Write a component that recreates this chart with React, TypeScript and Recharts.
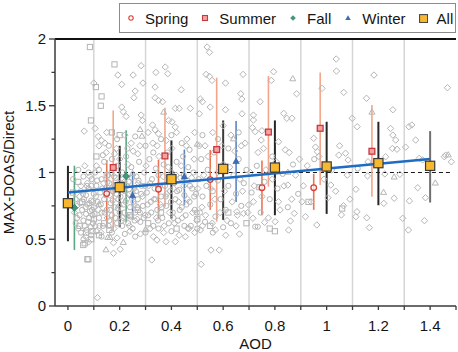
import React from 'react';
import { ComposedChart, Scatter, XAxis, YAxis, ReferenceLine, ErrorBar } from 'recharts';

// ---------- data ----------
const allX = [0, 0.2, 0.4, 0.6, 0.8, 1.0, 1.2, 1.4];
const allY = [0.77, 0.89, 0.95, 1.027, 1.037, 1.045, 1.07, 1.05];
const allLo = [0.485, 0.59, 0.655, 0.645, 0.68, 0.69, 0.755, 0.775];
const allHi = [1.05, 1.2, 1.24, 1.39, 1.39, 1.38, 1.38, 1.31];
const allBarColor = ['#262626', '#262626', '#262626', '#3a3a3a', '#262626', '#262626', '#262626', '#707070'];

const springX = [0.15, 0.35, 0.55, 0.75, 0.95];
const springY = [0.842, 0.875, 0.947, 0.886, 0.886];
const springLo = [0.585, 0.655, 0.72, 0.68, 0.72];
const springHi = [1.094, 1.094, 1.169, 1.089, 0.99];

const summerX = [0.175, 0.375, 0.575, 0.775, 0.975, 1.175];
const summerY = [1.037, 1.124, 1.172, 1.303, 1.331, 1.159];
const summerLo = [0.57, 0.744, 0.632, 0.894, 0.906, 0.819];
const summerHi = [1.465, 1.485, 1.71, 1.723, 1.75, 1.506];

const fallX = [0.025, 0.225];
const fallY = [0.736, 0.972];
const fallLo = [0.42, 0.628];
const fallHi = [1.051, 1.316];

const winterX = [0.25, 0.45, 0.65];
const winterY = [0.824, 0.966, 1.081];
const winterLo = [0.644, 0.757, 0.779];
const winterHi = [0.997, 1.172, 1.386];

const fitX = [0, 1.4];
const fitY = [0.85, 1.101];

const unityX = [0, 1.48];
const unityY = 1;

const binEdges = [0.1, 0.3, 0.5, 0.7, 0.9, 1.1, 1.3];
const xTicks = [0, 0.1, 0.2, 0.3, 0.4, 0.5, 0.6, 0.7, 0.8, 0.9, 1.0, 1.1, 1.2, 1.3, 1.4, 1.5];
const xMajor = [0, 0.2, 0.4, 0.6, 0.8, 1.0, 1.2, 1.4];
const yTicks = [0, 0.25, 0.5, 0.75, 1, 1.25, 1.5, 1.75, 2];
const yMajor = [0, 0.5, 1, 1.5, 2];

// individual grey observations, by season (x = AOD, y = ratio)
const greySpring: number[][] = [
  [0.03, 0.62], [0.04, 0.58], [0.045, 0.68], [0.05, 0.55], [0.055, 0.72], [0.06, 0.64], [0.062, 0.8], [0.065, 0.6],
  [0.07, 0.69], [0.072, 0.57], [0.075, 0.76], [0.078, 0.63], [0.08, 0.88], [0.082, 0.66], [0.085, 0.71], [0.088, 0.59],
  [0.09, 0.79], [0.092, 0.95], [0.095, 0.68], [0.097, 0.62], [0.1, 0.84], [0.1, 0.74],
  [0.02, 0.95], [0.03, 0.8], [0.04, 1.02], [0.05, 0.86], [0.06, 0.97], [0.07, 0.83], [0.08, 1.0], [0.09, 0.9],
  [0.11, 0.9], [0.115, 0.78], [0.12, 1.02], [0.12, 0.66], [0.125, 0.85], [0.13, 0.95], [0.13, 0.7], [0.135, 0.6],
  [0.14, 1.08], [0.14, 0.8], [0.145, 0.88], [0.15, 0.72], [0.155, 0.98], [0.16, 0.64], [0.16, 0.92], [0.165, 0.77],
  [0.17, 1.1], [0.17, 0.68], [0.175, 0.86], [0.18, 0.74], [0.185, 0.96], [0.19, 0.62], [0.19, 1.05], [0.195, 0.8],
  [0.2, 0.7], [0.205, 0.9], [0.21, 1.0], [0.21, 0.6], [0.215, 0.76], [0.22, 0.86], [0.225, 1.12], [0.23, 0.67],
  [0.235, 0.93], [0.24, 0.74], [0.245, 1.04], [0.25, 0.58], [0.255, 0.88], [0.26, 0.7], [0.265, 0.97], [0.27, 0.8],
  [0.275, 1.08], [0.28, 0.63], [0.285, 0.9], [0.29, 0.75], [0.295, 1.0],
  [0.305, 0.85], [0.31, 0.68], [0.315, 1.1], [0.32, 0.78], [0.325, 0.95], [0.33, 0.6], [0.335, 0.88], [0.34, 1.03],
  [0.345, 0.72], [0.35, 0.98], [0.36, 0.82], [0.365, 0.66], [0.37, 1.06], [0.375, 0.9], [0.38, 0.75], [0.385, 1.15],
  [0.39, 0.62], [0.395, 0.86], [0.4, 1.0], [0.405, 0.7], [0.41, 0.92], [0.415, 0.8], [0.42, 1.08], [0.425, 0.64],
  [0.43, 0.87], [0.435, 0.96], [0.44, 0.74], [0.445, 1.12], [0.45, 0.83], [0.455, 0.68], [0.46, 0.94], [0.465, 1.04],
  [0.47, 0.78], [0.475, 0.6], [0.48, 0.88], [0.485, 1.0], [0.49, 0.72], [0.495, 0.84],
  [0.505, 0.95], [0.51, 0.7], [0.515, 1.1], [0.52, 0.82], [0.53, 0.63], [0.535, 0.9], [0.54, 1.02], [0.55, 0.76],
  [0.56, 0.86], [0.565, 1.15], [0.57, 0.67], [0.58, 0.94], [0.59, 0.8], [0.6, 1.06], [0.61, 0.72], [0.62, 0.9],
  [0.63, 0.62], [0.64, 0.98], [0.65, 0.84], [0.66, 1.1], [0.67, 0.75], [0.68, 0.92], [0.69, 1.02],
  [0.71, 0.85], [0.73, 1.05], [0.745, 0.7], [0.76, 0.93], [0.78, 0.8], [0.79, 1.12], [0.81, 0.88], [0.83, 0.99],
  [0.85, 0.74], [0.87, 1.06], [0.89, 0.84],
  [0.105, 1.0], [0.135, 1.13], [0.158, 1.2], [0.19, 1.25], [0.23, 1.18], [0.26, 1.27], [0.3, 1.2], [0.33, 1.15],
  [0.36, 1.25], [0.4, 1.28], [0.44, 1.22], [0.47, 1.17], [0.52, 1.28], [0.58, 1.25], [0.62, 1.18], [0.66, 1.3],
  [0.06, 0.5], [0.09, 0.53], [0.13, 0.52], [0.17, 0.55], [0.22, 0.54], [0.26, 0.52], [0.3, 0.55], [0.35, 0.58],
  [0.4, 0.56], [0.45, 0.6], [0.5, 0.58], [0.56, 0.55], [0.6, 0.59],
  [0.724, 0.594], [0.734, 0.594], [0.952, 1.1], [1.12, 1.03],
  [0.035, 0.66], [0.048, 0.77], [0.058, 0.84], [0.068, 0.74], [0.074, 0.9], [0.083, 0.77], [0.093, 0.72], [0.103, 0.69],
  [0.108, 0.82], [0.113, 0.94], [0.122, 0.6], [0.127, 0.76], [0.133, 0.88], [0.142, 0.7], [0.147, 0.83], [0.153, 0.93],
  [0.157, 0.6], [0.163, 0.72], [0.168, 0.88], [0.173, 0.79], [0.178, 0.97], [0.183, 0.66], [0.188, 0.84], [0.193, 0.73],
  [0.198, 0.92], [0.203, 0.82], [0.208, 0.64], [0.213, 0.95], [0.218, 0.7], [0.223, 0.78], [0.228, 0.9], [0.233, 0.62],
  [0.238, 0.84], [0.243, 0.67], [0.248, 0.96], [0.253, 0.78], [0.258, 0.64], [0.263, 0.86], [0.268, 0.74], [0.273, 0.94],
  [0.278, 0.7], [0.283, 0.84], [0.293, 0.66], [0.298, 0.9],
  [0.308, 0.76], [0.318, 0.92], [0.322, 0.7], [0.338, 0.8], [0.348, 0.64], [0.355, 0.9], [0.362, 0.74], [0.378, 0.82],
  [0.392, 0.95], [0.398, 0.78], [0.408, 0.66], [0.422, 0.86], [0.432, 0.72], [0.448, 0.98], [0.458, 0.76], [0.472, 0.9],
  [0.488, 0.82], [0.498, 0.7],
];

const greyFall: number[][] = [
  [0.1, 1.67], [0.193, 1.73], [0.208, 1.66], [0.252, 1.73], [0.283, 1.8], [0.26, 1.61], [0.29, 1.67], [0.34, 1.75],
  [0.376, 1.79], [0.386, 1.74], [0.255, 1.56], [0.337, 1.64], [0.438, 1.62], [0.538, 1.94], [0.547, 1.9], [0.534, 1.735],
  [0.547, 1.72], [0.557, 1.69], [0.609, 1.67], [0.677, 1.735], [0.668, 1.59], [0.672, 1.55], [0.743, 1.53], [0.795, 1.755],
  [0.786, 1.69], [0.884, 1.59], [1.037, 1.85], [1.038, 1.76], [0.982, 1.63], [1.066, 1.6], [1.183, 1.73], [1.154, 1.556],
  [1.256, 1.47], [1.467, 1.635],
  [0.337, 1.56], [0.35, 1.54], [0.366, 1.53], [0.208, 1.49], [0.214, 1.455], [0.225, 1.42], [0.063, 1.31], [0.105, 1.33],
  [0.512, 1.55], [0.52, 1.53], [0.55, 1.49], [0.609, 1.47], [0.415, 1.48], [0.43, 1.48], [0.473, 1.48], [0.508, 1.44],
  [0.673, 1.44], [0.717, 1.43], [0.283, 1.43], [0.288, 1.39], [0.389, 1.39], [0.402, 1.38], [0.415, 1.34], [0.327, 1.356],
  [0.337, 1.32], [0.35, 1.29], [0.117, 1.27], [0.13, 1.24], [0.143, 1.22],
  [0.834, 1.443], [0.846, 1.406], [0.866, 1.406], [0.717, 1.393], [0.713, 1.336], [0.724, 1.306], [0.75, 1.313], [0.747, 1.243],
  [0.756, 1.18], [0.814, 1.23], [0.84, 1.17], [0.95, 1.256], [0.957, 1.19], [1.099, 1.406], [1.118, 1.343], [1.247, 1.33],
  [1.256, 1.28], [1.267, 1.243], [1.254, 1.18], [1.318, 1.343], [1.329, 1.356], [1.344, 1.243], [1.305, 1.19], [1.047, 1.13],
  [1.073, 1.144], [1.228, 1.118], [1.46, 1.13], [1.482, 1.08], [0.964, 1.156], [1.083, 1.094], [1.272, 1.174], [1.158, 0.974],
  [1.283, 0.986], [1.358, 1.106], [1.371, 1.094], [1.455, 1.118],
  [1.352, 0.886], [1.32, 0.787], [1.382, 0.811], [1.261, 0.807], [1.113, 0.874], [1.065, 0.751], [1.117, 0.706], [1.113, 0.669],
  [1.057, 0.682], [1.005, 0.811], [1.016, 0.906], [0.962, 0.607], [1.155, 0.661], [1.165, 0.587], [1.294, 0.657], [1.316, 0.569],
  [1.378, 0.639], [1.16, 1.081], [1.225, 0.989], [1.221, 0.769], [0.918, 0.669], [0.905, 0.781], [0.853, 0.569], [0.86, 0.637],
  [0.875, 0.694], [0.85, 0.906], [0.814, 0.781], [0.801, 0.632], [0.76, 0.627], [0.715, 0.657], [0.663, 0.539],
  [0.679, 0.694], [0.653, 0.706], [0.698, 0.757], [0.717, 0.781],
  [0.114, 0.062], [0.324, 0.345], [0.515, 0.312], [0.553, 0.419], [0.585, 0.419], [0.176, 0.395], [0.202, 0.425], [0.176, 0.474],
  [0.344, 0.494], [0.379, 0.482], [0.415, 0.482], [0.454, 0.519], [0.463, 0.582], [0.512, 0.569],
  [0.035, 0.75], [0.05, 0.9], [0.068, 0.52], [0.085, 0.97], [0.105, 0.6], [0.11, 1.05], [0.118, 0.72], [0.128, 0.55],
  [0.138, 0.92], [0.148, 1.15], [0.152, 0.66], [0.162, 0.83], [0.168, 1.0], [0.178, 0.58], [0.182, 0.9], [0.188, 1.18],
  [0.198, 0.75], [0.2, 1.1], [0.212, 0.66], [0.218, 0.93], [0.228, 0.8], [0.232, 1.06], [0.238, 0.6], [0.248, 0.85],
  [0.252, 1.16], [0.258, 0.76], [0.268, 0.65], [0.272, 0.92], [0.278, 1.2], [0.288, 0.82], [0.298, 0.68], [0.302, 1.05],
  [0.312, 0.9], [0.318, 0.58], [0.328, 1.22], [0.332, 0.8], [0.342, 0.66], [0.348, 0.9], [0.352, 1.12], [0.358, 0.76],
  [0.368, 0.97], [0.372, 0.6], [0.382, 0.84], [0.388, 1.04], [0.392, 0.7], [0.402, 1.18], [0.408, 0.88], [0.412, 0.62],
  [0.418, 0.98], [0.428, 0.78], [0.438, 1.05], [0.442, 0.66], [0.448, 0.9], [0.458, 1.2], [0.462, 0.8], [0.468, 0.58],
  [0.478, 0.96], [0.482, 0.7], [0.488, 1.1], [0.498, 0.64], [0.502, 0.88], [0.508, 1.2], [0.518, 0.74], [0.525, 0.98],
  [0.532, 0.68], [0.542, 1.12], [0.552, 0.88], [0.558, 0.62], [0.568, 0.8], [0.578, 1.0], [0.588, 0.7], [0.595, 1.2],
  [0.605, 0.86], [0.615, 0.64], [0.625, 1.04], [0.635, 0.78], [0.645, 1.16], [0.655, 0.68], [0.665, 0.95], [0.675, 0.86],
  [0.685, 1.22], [0.695, 0.7],
  [0.705, 1.0], [0.72, 0.9], [0.735, 1.15], [0.75, 0.82], [0.765, 1.02], [0.775, 0.66], [0.79, 0.95], [0.805, 1.08],
  [0.82, 0.72], [0.835, 0.9], [0.855, 1.15], [0.865, 0.8], [0.88, 0.98], [0.895, 1.1],
  [0.91, 0.9], [0.925, 1.05], [0.94, 0.78], [0.97, 1.12], [0.99, 0.95], [1.02, 1.02], [1.035, 0.86], [1.05, 1.2],
  [1.08, 0.98], [1.09, 0.8],
  [0.12, 1.2], [0.15, 1.3], [0.18, 1.14], [0.22, 1.28], [0.245, 1.22], [0.27, 1.14], [0.31, 1.3], [0.345, 1.2],
  [0.38, 1.24], [0.42, 1.3], [0.46, 1.25], [0.49, 1.3], [0.53, 1.2], [0.56, 1.3], [0.6, 1.35], [0.63, 1.28], [0.67, 1.2],
  [0.08, 0.48], [0.11, 0.56], [0.19, 0.51], [0.24, 0.56], [0.28, 0.54], [0.33, 0.52], [0.37, 0.55], [0.43, 0.53],
  [0.49, 0.55], [0.52, 0.6], [0.57, 0.57], [0.61, 0.53], [0.65, 0.6],
  [0.025, 0.7], [0.045, 0.82], [0.065, 1.05], [0.075, 0.92], [0.095, 0.78],
];

const greySummer: number[][] = [
  [0.085, 1.94], [0.18, 1.81], [0.108, 1.64], [0.13, 1.57], [0.127, 1.5], [0.089, 1.39], [0.075, 0.35], [0.079, 0.35],
  [0.059, 0.457], [0.065, 0.47], [0.09, 0.5], [0.07, 0.55], [0.045, 0.6], [0.055, 0.78], [0.095, 0.56], [0.12, 0.53],
  [0.1, 0.65], [0.14, 0.62], [0.16, 0.57], [0.15, 0.98], [0.17, 1.3], [0.11, 1.12], [0.2, 1.28], [0.24, 0.68],
  [0.27, 0.72], [0.31, 0.62], [0.36, 0.7], [0.42, 0.58], [0.5, 0.65], [0.55, 0.6], [0.62, 0.7], [0.69, 0.62],
  [0.78, 0.58], [0.74, 0.89], [0.8, 0.56], [0.93, 0.78], [1.06, 0.73], [0.04, 0.93], [0.02, 0.85],
];

const greyWinter: number[][] = [
  [0.154, 0.512], [0.163, 0.512], [0.147, 0.419], [0.214, 0.474], [0.279, 1.32], [0.286, 1.27], [0.869, 1.7],
  [1.175, 1.45], [1.261, 0.964], [1.22, 0.849], [1.42, 0.919], [0.37, 1.45], [0.5, 1.21], [0.64, 1.25], [0.25, 0.99],
  [0.12, 0.76], [0.3, 0.57], [0.85, 1.0], [1.47, 1.13],
];

// ---------- tables built from arrays ----------
type Row = { x: number; y: number; err?: number[]; color?: string };
const buildStat = (xs: number[], ys: number[], lo: number[], hi: number[]): Row[] =>
  xs.map((x, i) => ({ x, y: ys[i], err: [ys[i] - lo[i], hi[i] - ys[i]] }));
const buildPts = (arr: number[][]): Row[] => arr.map(([x, y]) => ({ x, y }));

const springRows = buildStat(springX, springY, springLo, springHi);
const summerRows = buildStat(summerX, summerY, summerLo, summerHi);
const fallRows = buildStat(fallX, fallY, fallLo, fallHi);
const winterRows = buildStat(winterX, winterY, winterLo, winterHi);
const allRows = buildStat(allX, allY, allLo, allHi).map((r, i) => ({ ...r, color: allBarColor[i] }));
const allBarGroups = Array.from(new Set(allBarColor)).map((c) => ({ color: c, rows: allRows.filter((r) => r.color === c) }));
const fitRows = fitX.map((x, i) => ({ x, y: fitY[i] }));

const FONT = '"Liberation Sans", Arial, Helvetica, sans-serif';
const GREY = '#b5b5b5';

// ---------- shapes ----------
const diamondPath = (cx: number, cy: number, r: number) => `M${cx},${cy - r}L${cx + r},${cy}L${cx},${cy + r}L${cx - r},${cy}Z`;
const triPath = (cx: number, cy: number, s: number) => {
  const h = s * 0.866;
  return `M${cx},${cy - (2 * h) / 3}L${cx + s / 2},${cy + h / 3}L${cx - s / 2},${cy + h / 3}Z`;
};

const GreyCircle = (p: any) => <circle cx={p.cx} cy={p.cy} r={2.6} fill="none" stroke={GREY} strokeWidth={1} />;
const GreySquare = (p: any) => <rect x={p.cx - 2.6} y={p.cy - 2.6} width={5.2} height={5.2} fill="none" stroke={GREY} strokeWidth={1} />;
const GreyDiamond = (p: any) => <path d={diamondPath(p.cx, p.cy, 3.2)} fill="none" stroke={GREY} strokeWidth={1} />;
const GreyTri = (p: any) => <path d={triPath(p.cx, p.cy, 6)} fill="none" stroke={GREY} strokeWidth={1} />;

const SpringMark = (p: any) => <circle cx={p.cx} cy={p.cy} r={2.8} fill="#ffffff" fillOpacity={0.7} stroke="#d8403a" strokeWidth={1.3} />;
const SummerMark = (p: any) => <rect x={p.cx - 2.9} y={p.cy - 2.9} width={5.8} height={5.8} fill="#f2a2a2" stroke="#c8393d" strokeWidth={1.3} />;
const FallMark = (p: any) => <path d={diamondPath(p.cx, p.cy, 3.4)} fill="#3e9a7a" stroke="#2c7d62" strokeWidth={0.8} />;
const WinterMark = (p: any) => <path d={triPath(p.cx, p.cy, 6.4)} fill="#3a6db5" stroke="#2f5f9f" strokeWidth={0.6} />;
const AllMark = (p: any) => <rect x={p.cx - 4.6} y={p.cy - 4.6} width={9.2} height={9.2} fill="#f6b82f" stroke="#3b3b3b" strokeWidth={1.2} />;
const NoMark = () => <g />;

// ---------- ticks ----------
const YTick = (props: any) => {
  const { x, y, payload } = props;
  const v = payload.value;
  const major = yMajor.includes(v);
  return (
    <g>
      <line x1={x - (major ? 6 : 3.5)} x2={x} y1={y} y2={y} stroke="#3a3a3a" strokeWidth={1.3} />
      {major && (
        <text x={x - 9} y={y} dy={5.3} textAnchor="end" fontSize={15} fill="#151515" fontFamily={FONT}>
          {String(v)}
        </text>
      )}
    </g>
  );
};
const XTick = (props: any) => {
  const { x, y, payload } = props;
  const v = payload.value;
  const major = xMajor.some((m) => Math.abs(m - v) < 1e-9);
  return (
    <g>
      <line x1={x} x2={x} y1={y} y2={y + 4} stroke="#3a3a3a" strokeWidth={1.3} />
      {major && (
        <text x={x} y={y + 24.5} textAnchor="middle" fontSize={15} fill="#151515" fontFamily={FONT}>
          {String(v)}
        </text>
      )}
    </g>
  );
};

// ---------- legend ----------
const legendItems = [
  { label: 'Spring', icon: <circle cx={4} cy={4} r={2.2} fill="#fff" stroke="#d8403a" strokeWidth={1.1} /> },
  { label: 'Summer', icon: <rect x={1.5} y={1.5} width={5} height={5} fill="#f2a2a2" stroke="#c8393d" strokeWidth={1.1} /> },
  { label: 'Fall', icon: <path d={diamondPath(4, 4, 2.8)} fill="#3e9a7a" /> },
  { label: 'Winter', icon: <path d={triPath(4, 4.5, 5.5)} fill="#3a6db5" /> },
  { label: 'All', icon: <rect x={0.6} y={0.6} width={8} height={8} fill="#f6b82f" stroke="#3b3b3b" strokeWidth={1} /> },
];

export default function App() {
  return (
    <div style={{ position: 'absolute', left: 0, top: 0, width: 458, height: 352, background: '#fff', fontFamily: FONT }}>
      <ComposedChart width={458} height={352} margin={{ top: 39, right: 2, bottom: 0, left: 0 }}>
        <XAxis
          type="number"
          dataKey="x"
          domain={[-0.05, 1.5]}
          allowDataOverflow
          ticks={xTicks}
          interval={0}
          tick={<XTick />}
          tickLine={false}
          tickSize={0}
          tickMargin={0}
          height={46}
          axisLine={{ stroke: '#3a3a3a', strokeWidth: 1.5 }}
          label={{ value: 'AOD', position: 'insideBottom', offset: 3, fontSize: 15, fill: '#151515', fontFamily: FONT }}
        />
        <YAxis
          type="number"
          dataKey="y"
          domain={[0, 2]}
          allowDataOverflow
          ticks={yTicks}
          interval={0}
          tick={<YTick />}
          tickLine={false}
          tickSize={0}
          tickMargin={0}
          width={55}
          axisLine={{ stroke: '#3a3a3a', strokeWidth: 1.5 }}
          label={{
            value: 'MAX-DOAS/Direct',
            angle: -90,
            position: 'insideLeft',
            offset: 9,
            fontSize: 15,
            fill: '#151515',
            fontFamily: FONT,
            style: { textAnchor: 'middle' },
          }}
        />
        {binEdges.map((b) => (
          <ReferenceLine key={'g' + b} x={b} stroke="#d5d5d5" strokeWidth={1.5} />
        ))}
        <ReferenceLine y={2} stroke="#111" strokeWidth={2} />
        <Scatter data={buildPts(greyFall)} shape={GreyDiamond} isAnimationActive={false} />
        <Scatter data={buildPts(greySpring)} shape={GreyCircle} isAnimationActive={false} />
        <Scatter data={buildPts(greySummer)} shape={GreySquare} isAnimationActive={false} />
        <Scatter data={buildPts(greyWinter)} shape={GreyTri} isAnimationActive={false} />
        <ReferenceLine
          segment={[{ x: unityX[0], y: unityY }, { x: unityX[1], y: unityY }]}
          stroke="#1a1a1a"
          strokeWidth={1}
          strokeDasharray="4 3"
        />
        <Scatter data={springRows} shape={SpringMark} isAnimationActive={false}>
          <ErrorBar dataKey="err" direction="y" width={0} stroke="#ee7350" strokeWidth={1.6} />
        </Scatter>
        <Scatter data={summerRows} shape={SummerMark} isAnimationActive={false}>
          <ErrorBar dataKey="err" direction="y" width={0} stroke="#f4a589" strokeWidth={1.6} />
        </Scatter>
        <Scatter data={fallRows} shape={FallMark} isAnimationActive={false}>
          <ErrorBar dataKey="err" direction="y" width={0} stroke="#5aa882" strokeWidth={1.6} />
        </Scatter>
        <Scatter data={winterRows} shape={WinterMark} isAnimationActive={false}>
          <ErrorBar dataKey="err" direction="y" width={0} stroke="#5a84c2" strokeWidth={1.6} />
        </Scatter>
        {allBarGroups.map((g) => (
          <Scatter key={'ab' + g.color} data={g.rows} shape={NoMark} isAnimationActive={false}>
            <ErrorBar dataKey="err" direction="y" width={0} stroke={g.color} strokeWidth={2} />
          </Scatter>
        ))}
        <Scatter
          data={fitRows}
          shape={NoMark}
          line={{ stroke: '#1f6cc4', strokeWidth: 2.6 }}
          isAnimationActive={false}
        />
        <Scatter data={allRows} shape={AllMark} isAnimationActive={false} />
      </ComposedChart>
      <div
        style={{
          position: 'absolute',
          left: 119,
          top: 3,
          width: 337,
          height: 30,
          boxSizing: 'border-box',
          border: '1px solid #8c8c8c',
          display: 'flex',
          alignItems: 'center',
          paddingLeft: 7,
          fontSize: 15,
          color: '#151515',
          background: '#fff',
        }}
      >
        {legendItems.map((it) => (
          <div key={it.label} style={{ display: 'flex', alignItems: 'center', marginRight: 13 }}>
            <svg width={9} height={9} style={{ display: 'block' }}>
              {it.icon}
            </svg>
            <span style={{ marginLeft: 9, lineHeight: '17px' }}>{it.label}</span>
          </div>
        ))}
      </div>
    </div>
  );
}
